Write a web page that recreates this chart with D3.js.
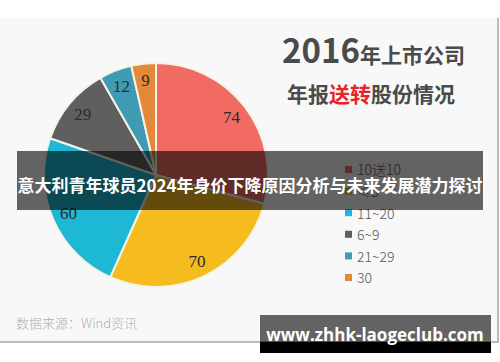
<!DOCTYPE html>
<meta charset="utf-8">
<html>
  <head>
    <script src="https://d3js.org/d3.v7.min.js"></script>
    <style>
      body { margin: 0; background: #fff; }
    </style>
  </head>
  <body>
    <div id="chart"></div>

    <script type="text/javascript">
      var categories = ["10送10", "≤5", "11~20", "6~9", "21~29", "30"],
          values = [74, 70, 60, 29, 12, 9],
          colors = ["#f26b63", "#f6bc1f", "#1db8d4", "#5f5f5f", "#3f9ab4", "#e4883a"];

      var width = 500, height = 362,
          cx = 156, cy = 175, radius = 112,
          cjk = "'Noto Sans CJK SC', 'Noto Sans', sans-serif";

      var svg = d3.select("#chart").append("svg")
          .attr("width", width)
          .attr("height", height);

      // light panel with a frame on the right and bottom
      svg.append("rect")
          .attr("x", 0).attr("y", 18)
          .attr("width", 498).attr("height", 324)
          .style("fill", "#f8f8f8");
      svg.append("path")
          .attr("d", "M498,18V342H0")
          .style("fill", "none")
          .style("stroke", "#a8a8a8")
          .style("stroke-width", "1.5px");

      var pie = d3.pie().sort(null).value(function(d){ return d; });
      var arcs = pie(values);
      var arc = d3.arc().innerRadius(0).outerRadius(radius);
      var labelArc = d3.arc().innerRadius(radius * 0.85).outerRadius(radius * 0.85);

      var g = svg.append("g")
          .attr("transform", "translate(" + cx + "," + cy + ")");

      g.selectAll(".slice")
          .data(arcs)
          .enter().append("path")
          .attr("class", "slice")
          .attr("d", arc)
          .style("fill", function(d, i){ return colors[i]; })
          .style("stroke", "#f4f4e6")
          .style("stroke-width", "2px");

      g.selectAll(".lbl")
          .data(arcs)
          .enter().append("text")
          .attr("class", "lbl")
          .attr("transform", function(d){ return "translate(" + labelArc.centroid(d) + ")"; })
          .attr("dy", "0.35em")
          .style("text-anchor", "middle")
          .style("font-family", "'Liberation Serif', 'DejaVu Serif', serif")
          .style("font-size", "17px")
          .style("fill", "#2b2b2b")
          .text(function(d){ return d.data; });

      // legend
      var ly = d3.scalePoint().domain(categories).range([170, 278]);
      var legend = svg.selectAll(".leg")
          .data(categories)
          .enter().append("g")
          .attr("class", "leg")
          .attr("transform", function(d){ return "translate(345," + ly(d) + ")"; });
      legend.append("rect")
          .attr("x", 0).attr("y", -4)
          .attr("width", 7).attr("height", 7)
          .style("fill", function(d, i){ return colors[i]; });
      legend.append("text")
          .attr("x", 12).attr("dy", "0.38em")
          .style("font-family", cjk)
          .style("font-size", "14px")
          .style("font-weight", 300)
          .style("fill", "#555")
          .text(function(d){ return d; });

      // title
      var t1 = svg.append("text")
          .attr("x", 282).attr("y", 63)
          .style("font-family", cjk)
          .style("font-weight", "bold")
          .style("fill", "#4a4a4a");
      t1.append("tspan").style("font-size", "33px").text("2016");
      t1.append("tspan").style("font-size", "21px").text("年上市公司");

      var t2 = svg.append("text")
          .attr("x", 287).attr("y", 102)
          .style("font-family", cjk)
          .style("font-weight", "bold")
          .style("font-size", "21px")
          .style("fill", "#4a4a4a");
      t2.append("tspan").text("年报");
      t2.append("tspan").style("fill", "#e3262a").text("送转");
      t2.append("tspan").text("股份情况");

      svg.append("text")
          .attr("x", 16).attr("y", 328)
          .style("font-family", cjk)
          .style("font-size", "13px")
          .style("font-weight", 300)
          .style("fill", "#b0b0b0")
          .text("数据来源：Wind资讯");

      // overlay banners
      svg.append("rect")
          .attr("x", 17).attr("y", 151)
          .attr("width", 466).attr("height", 59)
          .style("fill", "rgba(0,0,0,0.6)");
      svg.append("text")
          .attr("x", 250).attr("y", 186)
          .attr("dy", "0.35em")
          .style("text-anchor", "middle")
          .style("font-family", cjk)
          .style("font-weight", "bold")
          .style("font-size", "17px")
          .style("fill", "#fff")
          .text("意大利青年球员2024年身价下降原因分析与未来发展潜力探讨");

      svg.append("rect")
          .attr("x", 260).attr("y", 315)
          .attr("width", 231).attr("height", 27)
          .style("fill", "rgba(0,0,0,0.6)");
      svg.append("rect")
          .attr("x", 260).attr("y", 342)
          .attr("width", 231).attr("height", 11)
          .style("fill", "#000");
      svg.append("text")
          .attr("x", 375).attr("y", 335)
          .attr("dy", "0.35em")
          .style("text-anchor", "middle")
          .style("font-family", "'Open Sans', 'Noto Sans', sans-serif")
          .style("font-weight", "bold")
          .style("font-size", "17px")
          .style("fill", "#fff")
          .text("www.zhhk-laogeclub.com");
    </script>
  </body>
</html>
